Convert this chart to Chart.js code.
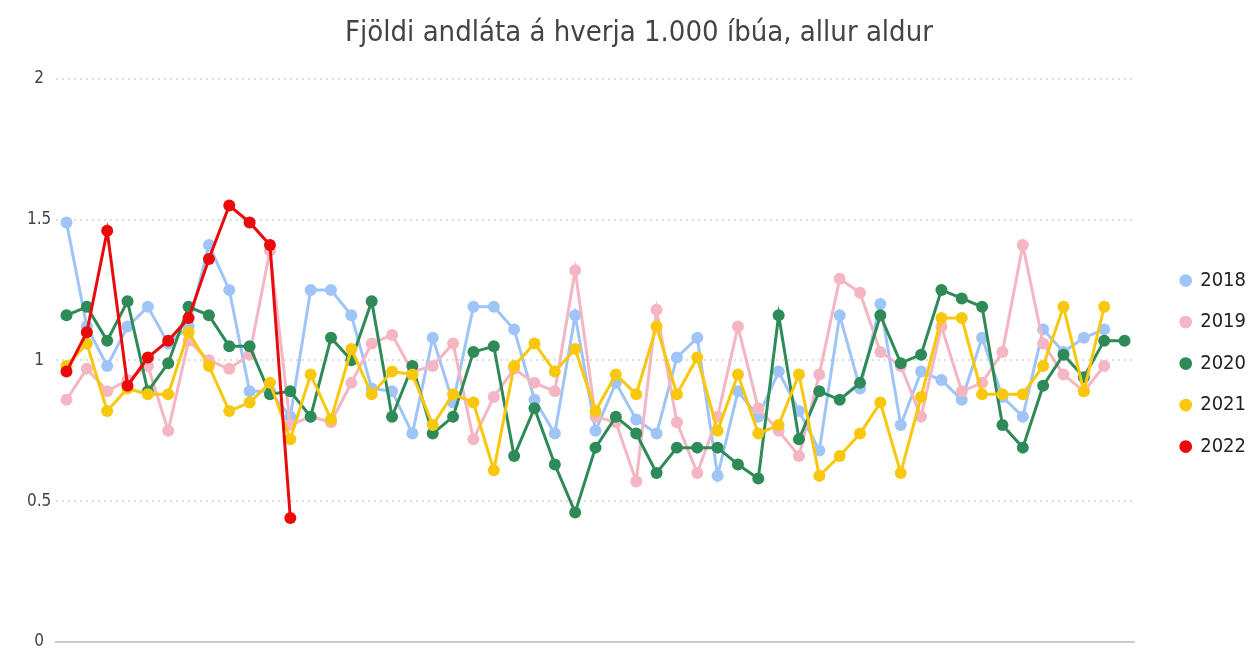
<!DOCTYPE html>
<html lang="is">
<head>
    <meta charset="UTF-8">
    <title>Fjöldi andláta á hverja 1.000 íbúa</title>
    <style>
        html, body { margin: 0; padding: 0; background: #fff; }
        .wrap { width: 1258px; height: 652px; position: relative; }
    </style>
    <script src="https://cdn.jsdelivr.net/npm/chart.js@4"></script>
</head>
<body>
    <div class="wrap">
        <canvas id="myChart"></canvas>
    </div>

    <script>
        // vikur 1..53
        var weeks = [];
        for (var w = 1; w <= 53; w++) weeks.push(String(w));

        var years = ['2018', '2019', '2020', '2021', '2022'];
        var yTicks = [0, 0.5, 1, 1.5, 2];

        var d2018 = [1.49, 1.12, 0.98, 1.12, 1.19, 1.06, 1.12, 1.41, 1.25, 0.89, 0.89, 0.80, 1.25, 1.25, 1.16, 0.90, 0.89, 0.74, 1.08, 0.85,
                     1.19, 1.19, 1.11, 0.86, 0.74, 1.16, 0.75, 0.92, 0.79, 0.74, 1.01, 1.08, 0.59, 0.89, 0.80, 0.96, 0.82, 0.68, 1.16, 0.90,
                     1.20, 0.77, 0.96, 0.93, 0.86, 1.08, 0.87, 0.80, 1.11, 1.03, 1.08, 1.11];
        var d2019 = [0.86, 0.97, 0.89, 0.93, 0.98, 0.75, 1.07, 1.00, 0.97, 1.02, 1.39, 0.77, 0.80, 0.78, 0.92, 1.06, 1.09, 0.96, 0.98, 1.06,
                     0.72, 0.87, 0.97, 0.92, 0.89, 1.32, 0.80, 0.78, 0.57, 1.18, 0.78, 0.60, 0.80, 1.12, 0.83, 0.75, 0.66, 0.95, 1.29, 1.24,
                     1.03, 0.98, 0.80, 1.12, 0.89, 0.92, 1.03, 1.41, 1.06, 0.95, 0.89, 0.98];
        var d2020 = [1.16, 1.19, 1.07, 1.21, 0.89, 0.99, 1.19, 1.16, 1.05, 1.05, 0.88, 0.89, 0.80, 1.08, 1.00, 1.21, 0.80, 0.98, 0.74, 0.80,
                     1.03, 1.05, 0.66, 0.83, 0.63, 0.46, 0.69, 0.80, 0.74, 0.60, 0.69, 0.69, 0.69, 0.63, 0.58, 1.16, 0.72, 0.89, 0.86, 0.92,
                     1.16, 0.99, 1.02, 1.25, 1.22, 1.19, 0.77, 0.69, 0.91, 1.02, 0.94, 1.07, 1.07];
        var d2021 = [0.98, 1.06, 0.82, 0.90, 0.88, 0.88, 1.10, 0.98, 0.82, 0.85, 0.92, 0.72, 0.95, 0.79, 1.04, 0.88, 0.96, 0.95, 0.77, 0.88,
                     0.85, 0.61, 0.98, 1.06, 0.96, 1.04, 0.82, 0.95, 0.88, 1.12, 0.88, 1.01, 0.75, 0.95, 0.74, 0.77, 0.95, 0.59, 0.66, 0.74,
                     0.85, 0.60, 0.87, 1.15, 1.15, 0.88, 0.88, 0.88, 0.98, 1.19, 0.89, 1.19];
        var d2022 = [0.96, 1.10, 1.46, 0.91, 1.01, 1.07, 1.15, 1.36, 1.55, 1.49, 1.41, 0.44];

        var colors = ['#9fc5f8', '#f4b6c2', '#2e8b57', '#f9c80e', '#ea0a0a'];
        var series = [d2018, d2019, d2020, d2021, d2022];

        var datasets = [];
        for (var i = 0; i < years.length; i++) {
            datasets.push({
                label: years[i],
                data: series[i],
                borderColor: colors[i],
                backgroundColor: colors[i],
                pointBackgroundColor: colors[i],
                pointBorderColor: colors[i],
                borderWidth: 3,
                pointBorderWidth: 0,
                pointRadius: 6,
                pointHoverRadius: 6,
                tension: 0,
                order: years.length - i   // 2022 ofan á
            });
        }

        var font = "'DejaVu Sans Condensed', 'DejaVu Sans', sans-serif";

        var ctx = document.getElementById('myChart').getContext('2d');
        var myChart = new Chart(ctx, {
            type: 'line',
            data: { labels: weeks, datasets: datasets },
            options: {
                responsive: true,
                maintainAspectRatio: false,
                animation: false,
                layout: { padding: { left: 22, right: 2, top: 0, bottom: 0 } },
                plugins: {
                    title: {
                        display: true,
                        text: 'Fjöldi andláta á hverja 1.000 íbúa, allur aldur',
                        color: '#444',
                        font: { family: font, size: 29, weight: 'normal' },
                        padding: { top: 16, bottom: 28 }
                    },
                    legend: {
                        position: 'right',
                        title: { display: true, text: '', font: { size: 1 }, padding: { top: 74, bottom: 0 } },
                        labels: {
                            usePointStyle: true,
                            pointStyle: 'circle',
                            boxWidth: 9,
                            boxHeight: 9,
                            padding: 21.5,
                            color: '#222',
                            font: { family: font, size: 20 },
                            sort: function (a, b) { return a.datasetIndex - b.datasetIndex; }
                        }
                    },
                    tooltip: { enabled: false }
                },
                scales: {
                    x: {
                        offset: true,
                        grid: { display: false, drawTicks: false },
                        border: { display: true, color: '#cccccc', width: 2 },
                        ticks: { display: false }
                    },
                    y: {
                        min: yTicks[0],
                        max: yTicks[yTicks.length - 1],
                        afterBuildTicks: function (axis) {
                            axis.ticks = yTicks.map(function (v) { return { value: v }; });
                        },
                        grid: { color: '#dddddd', lineWidth: 2, drawTicks: false },
                        border: { display: false, dash: [2, 4] },
                        ticks: {
                            padding: 5,
                            crossAlign: 'center',
                            color: '#444',
                            font: { family: font, size: 17, lineHeight: 0.6 },
                            callback: function (v) { return String(v); }
                        }
                    },
                    yPad: {
                        position: 'right',
                        grid: { display: false, drawTicks: false },
                        border: { display: false },
                        ticks: { display: false },
                        afterFit: function (axis) { axis.width = 25; }
                    }
                }
            }
        });
    </script>
</body>
</html>
